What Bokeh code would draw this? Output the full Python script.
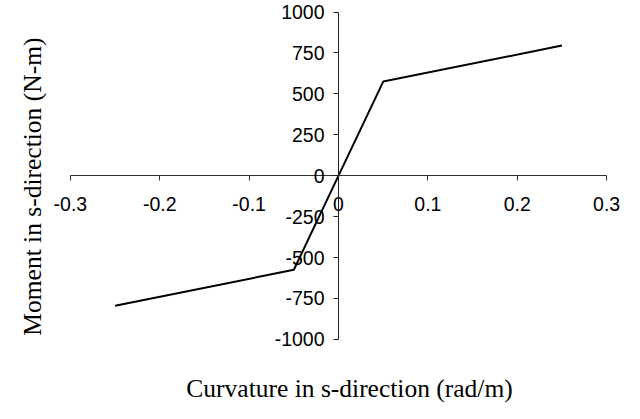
from bokeh.plotting import figure
from bokeh.models import Range1d, LinearAxis, FixedTicker, Label
from bokeh.embed import file_html
from bokeh.resources import INLINE
import math

# ---- data ----
curvature = [-0.25, -0.05, 0.0, 0.05, 0.25]
moment = [-795, -575, 0, 575, 795]
x_ticks = [-0.3, -0.2, -0.1, 0.0, 0.1, 0.2, 0.3]
y_ticks = [-1000, -750, -500, -250, 0, 250, 500, 750, 1000]
x_tick_labels = ["-0.3", "-0.2", "-0.1", "0", "0.1", "0.2", "0.3"]
y_tick_labels = ["-1000", "-750", "-500", "-250", "0", "250", "500", "750", "1000"]
x_title = "Curvature in s-direction (rad/m)"
y_title = "Moment in s-direction (N-m)"

# ---- layout: reference pixel positions scaled to the figure size ----
W, H = 624, 403
SX, SY = W / 640, H / 419
x_lo_px, x_hi_px = 71.7 * SX, 621.7 * SX     # where -0.3 and 0.3 sit
y_hi_px, y_lo_px = 12.0 * SY, 352.3 * SY     # where 1000 and -1000 sit (from top)

xs = (x_hi_px - x_lo_px) / (x_ticks[-1] - x_ticks[0])
x_start = x_ticks[0] - x_lo_px / xs
x_end = x_ticks[-1] + (W - x_hi_px) / xs
ys = (y_lo_px - y_hi_px) / (y_ticks[-1] - y_ticks[0])
y_end = y_ticks[-1] + y_hi_px / ys
y_start = y_ticks[0] - (H - y_lo_px) / ys

p = figure(width=W, height=H, x_range=Range1d(x_start, x_end),
           y_range=Range1d(y_start, y_end), x_axis_type=None, y_axis_type=None,
           output_backend="svg", toolbar_location=None, min_border=0)
p.outline_line_color = None
p.xgrid.visible = False
p.ygrid.visible = False
p.background_fill_color = "white"
p.border_fill_color = "white"

tick_font = "Liberation Sans"
tick_size = "19.5px"

xa = LinearAxis(fixed_location=0, bounds=(x_ticks[0], x_ticks[-1]),
                ticker=FixedTicker(ticks=x_ticks))
xa.axis_line_color = "#303030"
xa.axis_line_width = 1
xa.major_tick_line_color = "#303030"
xa.major_tick_in = 0
xa.major_tick_out = 5
xa.minor_tick_line_color = None
xa.major_label_text_font = tick_font
xa.major_label_text_font_size = tick_size
xa.major_label_text_color = "black"
xa.major_label_standoff = 16
xa.major_label_overrides = dict(zip(x_ticks, x_tick_labels))
p.add_layout(xa, "below")

ya = LinearAxis(fixed_location=0, bounds=(y_ticks[0], y_ticks[-1]),
                ticker=FixedTicker(ticks=y_ticks))
ya.axis_line_color = "#202020"
ya.axis_line_width = 1
ya.major_tick_line_color = "#202020"
ya.major_tick_in = 0
ya.major_tick_out = 5
ya.minor_tick_line_color = None
ya.major_label_text_font = tick_font
ya.major_label_text_font_size = tick_size
ya.major_label_text_color = "black"
ya.major_label_standoff = 9
ya.major_label_overrides = dict(zip(y_ticks, y_tick_labels))
p.add_layout(ya, "left")

p.line(curvature, moment, line_color="black", line_width=2)

title_font = "Liberation Serif"
title_size = "25.5px"
p.add_layout(Label(x=358 * SX, y=H - 388, x_units="screen", y_units="screen",
                   text=x_title, text_font=title_font, text_font_size=title_size,
                   text_align="center", text_baseline="alphabetic",
                   text_color="black"))
p.add_layout(Label(x=32.5 * SX, y=H - 193.5 * SY, x_units="screen", y_units="screen",
                   text=y_title, text_font=title_font, text_font_size=title_size,
                   angle=math.pi / 2, text_align="center",
                   text_baseline="alphabetic", text_color="black"))

open("out.html", "w").write(file_html(p, INLINE))
